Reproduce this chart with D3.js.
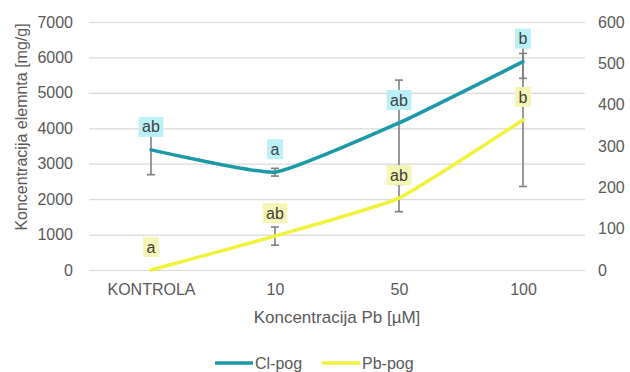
<!DOCTYPE html>
<html>
	<head>
		<meta charset="utf-8">
		<title>Koncentracija elemnta</title>
		<style>
			body { margin: 0; background: #fff; }
			svg { display: block; font-family: "Liberation Sans", Arial, sans-serif; }
		</style>
	</head>
	<body>
		<svg></svg>
		<script src="https://d3js.org/d3.v7.min.js"></script>
		<script>
			// data
			var categories = ["KONTROLA", "10", "50", "100"]
			var clValues = [3390, 2760, 4150, 5880]
			var clErrors = [700, 110, 1210, 470]
			var clLabels = ["ab", "a", "ab", "b"]
			var pbValues = [0, 82, 174, 363]
			var pbErrors = [0, 22, 33, 161]
			var pbLabels = ["a", "ab", "ab", "b"]
			var leftTicks = [0, 1000, 2000, 3000, 4000, 5000, 6000, 7000]
			var rightTicks = [0, 100, 200, 300, 400, 500, 600]

			// init vars
			var _width = 630
			var _height = 372
			var _svg = d3.select("svg").attr("width", _width).attr("height", _height)
			var plotLeft = 89, plotRight = 585, plotTop = 22, plotBottom = 270

			var x = d3.scalePoint().domain(categories).range([plotLeft, plotRight]).padding(0.5)
			var yL = d3.scaleLinear().domain([0, 7000]).range([plotBottom, plotTop])
			var yR = d3.scaleLinear().domain([0, 600]).range([plotBottom, plotTop])

			var clColor = "#1b99a6"
			var pbColor = "#f1f23c"
			var textColor = "#595959"

			// gridlines
			_svg.append("g")
				.attr("transform", "translate(" + plotLeft + ",0)")
				.call(d3.axisLeft(yL).tickValues(leftTicks).tickSize(-(plotRight - plotLeft)).tickFormat(""))
				.call(function (g) {
					g.select(".domain").remove()
					g.selectAll("line").attr("stroke", "#d9d9d9").attr("stroke-width", 1.2)
				})

			// left tick labels
			_svg.append("g")
				.attr("transform", "translate(" + plotLeft + ",0)")
				.call(d3.axisLeft(yL).tickValues(leftTicks).tickFormat(d3.format("d")).tickSize(0).tickPadding(16))
				.call(function (g) {
					g.select(".domain").remove()
					g.selectAll("text").attr("fill", textColor).style("font-size", "16px")
				})

			// right tick labels
			_svg.append("g")
				.attr("transform", "translate(" + plotRight + ",0)")
				.call(d3.axisRight(yR).tickValues(rightTicks).tickFormat(d3.format("d")).tickSize(0).tickPadding(13))
				.call(function (g) {
					g.select(".domain").remove()
					g.selectAll("text").attr("fill", textColor).style("font-size", "16px")
				})

			// x tick labels
			_svg.append("g")
				.attr("transform", "translate(0," + plotBottom + ")")
				.call(d3.axisBottom(x).tickSize(0).tickPadding(14))
				.call(function (g) {
					g.select(".domain").remove()
					g.selectAll("text").attr("fill", textColor).style("font-size", "16px")
				})

			// axis titles
			_svg.append("text")
				.attr("x", (plotLeft + plotRight) / 2).attr("y", 323)
				.attr("text-anchor", "middle").attr("fill", textColor)
				.style("font-size", "17px")
				.text("Koncentracija Pb [µM]")
			_svg.append("text")
				.attr("transform", "translate(27,127) rotate(-90)")
				.attr("text-anchor", "middle").attr("fill", textColor)
				.style("font-size", "16px")
				.text("Koncentracija elemnta [mg/g]")

			// error bars
			function addErrors(values, errors, y) {
				var g = _svg.append("g").attr("stroke", "#7f7f7f").attr("stroke-width", 1.6)
				categories.forEach(function (c, i) {
					if (!errors[i]) return
					var cx = x(c)
					var y0 = y(values[i] - errors[i]), y1 = y(values[i] + errors[i])
					g.append("line").attr("x1", cx).attr("x2", cx).attr("y1", y0).attr("y2", y1)
					g.append("line").attr("x1", cx - 4).attr("x2", cx + 4).attr("y1", y0).attr("y2", y0)
					g.append("line").attr("x1", cx - 4).attr("x2", cx + 4).attr("y1", y1).attr("y2", y1)
				})
			}
			addErrors(clValues, clErrors, yL)
			addErrors(pbValues, pbErrors, yR)

			// lines (lightly smoothed)
			function addLine(values, y, color) {
				var line = d3.line()
					.x(function (d, i) { return x(categories[i]) })
					.y(function (d) { return y(d) })
					.curve(d3.curveCardinal.tension(0.6))
				_svg.append("path")
					.datum(values)
					.attr("d", line)
					.attr("fill", "none")
					.attr("stroke", color)
					.attr("stroke-width", 3.5)
					.attr("stroke-linecap", "round")
			}
			addLine(clValues, yL, clColor)
			addLine(pbValues, yR, pbColor)

			// data labels
			function addLabels(values, labels, y, fill) {
				categories.forEach(function (c, i) {
					var cx = x(c), cy = y(values[i]) - 23
					var t = _svg.append("text")
						.attr("x", cx).attr("y", cy).attr("dy", "0.35em")
						.attr("text-anchor", "middle").attr("fill", "#404040")
						.style("font-size", "16px")
						.text(labels[i])
					var w = t.node().getComputedTextLength() + 7
					_svg.insert("rect", function () { return t.node() })
						.attr("x", cx - w / 2).attr("y", cy - 10)
						.attr("width", w).attr("height", 20)
						.attr("fill", fill)
				})
			}
			addLabels(clValues, clLabels, yL, "#bbf0f8")
			addLabels(pbValues, pbLabels, yR, "#f6f6b4")

			// legend
			var legend = [
				{ name: "Cl-pog", color: clColor, x: 215 },
				{ name: "Pb-pog", color: pbColor, x: 322 }
			]
			legend.forEach(function (d) {
				_svg.append("line")
					.attr("x1", d.x).attr("x2", d.x + 38).attr("y1", 363).attr("y2", 363)
					.attr("stroke", d.color).attr("stroke-width", 3.5)
				_svg.append("text")
					.attr("x", d.x + 40).attr("y", 363).attr("dy", "0.35em")
					.attr("fill", textColor).style("font-size", "16px")
					.text(d.name)
			})
		</script>
	</body>
</html>
